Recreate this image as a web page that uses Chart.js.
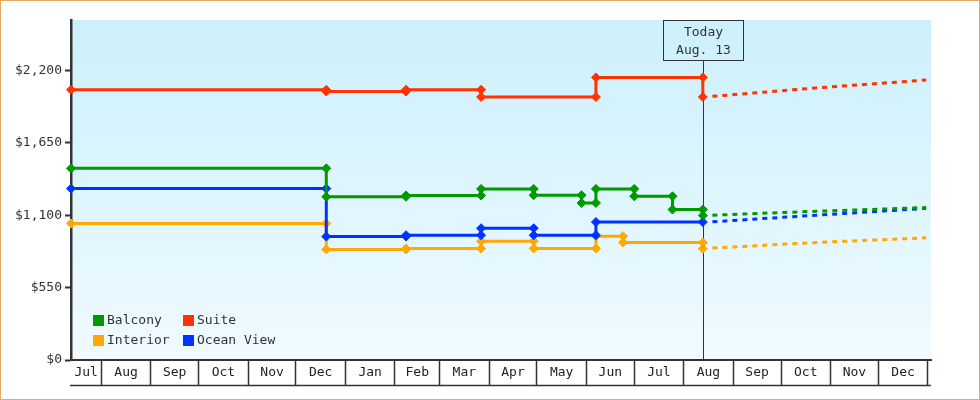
<!DOCTYPE html>
<html>
<head>
<meta charset="utf-8">
<script src="https://cdn.jsdelivr.net/npm/chart.js@4.4.0/dist/chart.umd.min.js"></script>
<style>
  body { margin: 0; background: #fff; }
  .frame { width: 980px; height: 400px; box-sizing: border-box; border: 1px solid #e9a865; }
  canvas { display: block; }
</style>
</head>
<body>
<div class="frame"><canvas id="prices" width="978" height="398"></canvas></div>
<script>
// month cells along the bottom, first one is a partial July
const monthNames = ['Jul','Aug','Sep','Oct','Nov','Dec','Jan','Feb','Mar','Apr','May','Jun','Jul','Aug','Sep','Oct','Nov','Dec']
const yTicks = [0, 550, 1100, 1650, 2200]

const startDate = '2022-07-13'
const endDate = '2024-01-03'
const today = '2023-08-13'

// price changes (date of change, new price)
const balconyDates = ['2022-07-13','2022-12-20','2023-02-08','2023-03-27','2023-04-29','2023-05-29','2023-06-07','2023-07-01','2023-07-25','2023-08-13']
const balconyPrices = [1456, 1240, 1250, 1300, 1252, 1193, 1300, 1244, 1143, 1098]

const suiteDates = ['2022-07-13','2022-12-20','2023-02-08','2023-03-27','2023-06-07','2023-08-13']
const suitePrices = [2053, 2040, 2053, 1998, 2147, 1998]

const interiorDates = ['2022-07-13','2022-12-20','2023-02-08','2023-03-27','2023-04-29','2023-06-07','2023-06-24','2023-08-13']
const interiorPrices = [1037, 840, 847, 903, 847, 941, 893, 845]

const oceanDates = ['2022-07-13','2022-12-20','2023-02-08','2023-03-27','2023-04-29','2023-06-07','2023-08-13']
const oceanPrices = [1302, 938, 948, 1001, 948, 1048, 1048]

// dashed forecast after today
const forecastDates = ['2023-08-19','2023-10-23','2023-12-31']
const suiteForecast = [2003, 2067, 2127]
const balconyForecast = [1100, 1130, 1158]
const oceanForecast = [1050, 1100, 1152]
const interiorForecast = [850, 893, 928]

const colors = { balcony: '#009900', suite: '#ff3300', interior: '#ffa800', ocean: '#0033ff' }
const FONT = 'DejaVu Sans Mono'

function day(s){
  const [y, m, d] = s.split('-').map(Number)
  return (Date.UTC(y, m - 1, d) - Date.UTC(2022, 6, 1)) / 864e5
}

function steps(dates, prices){
  const pts = []
  dates.forEach((d, i) => {
    if (i > 0 && prices[i] !== prices[i-1]) pts.push({ x: day(d), y: prices[i-1] })
    pts.push({ x: day(d), y: prices[i] })
  })
  return pts
}

function line(dates, prices){
  return dates.map((d, i) => ({ x: day(d), y: prices[i] }))
}

const xMin = day(startDate)
const xMax = day(endDate)

// month boundaries + a label tick in the middle of every cell
const monthTicks = []
monthNames.forEach((name, i) => {
  const a = Math.max(xMin, (Date.UTC(2022, 6 + i, 1) - Date.UTC(2022, 6, 1)) / 864e5)
  const b = Math.min(xMax, (Date.UTC(2022, 7 + i, 1) - Date.UTC(2022, 6, 1)) / 864e5)
  if (i > 0) monthTicks.push({ value: a })
  monthTicks.push({ value: (a + b) / 2, name: name })
})
monthTicks.push({ value: (Date.UTC(2024, 0, 1) - Date.UTC(2022, 6, 1)) / 864e5 })

function stepSet(label, key, dates, prices, order){
  return {
    label: label,
    data: steps(dates, prices),
    borderColor: colors[key],
    backgroundColor: colors[key],
    borderWidth: 3,
    pointStyle: 'rectRot',
    pointRadius: 4.5,
    pointBorderWidth: 1,
    pointBackgroundColor: colors[key],
    pointBorderColor: colors[key],
    tension: 0,
    clip: false,
    order: order
  }
}

function forecastSet(key, prices, order){
  return {
    label: key + ' forecast',
    data: line(forecastDates, prices),
    borderColor: colors[key],
    borderWidth: 3,
    borderDash: [5, 5],
    pointRadius: 0,
    tension: 0,
    clip: false,
    forecast: true,
    order: order
  }
}

const plotBackground = {
  id: 'plotBackground',
  beforeDraw(chart){
    const { ctx, chartArea: a } = chart
    const g = ctx.createLinearGradient(0, a.top, 0, a.bottom)
    g.addColorStop(0, '#ccf0fc')
    g.addColorStop(1, '#f0faff')
    ctx.save()
    ctx.fillStyle = g
    ctx.fillRect(a.left, a.top, a.right - a.left, a.bottom - a.top)
    ctx.restore()
  },
  afterDraw(chart){
    // bottom line closing the month cells
    const { ctx, chartArea: a } = chart
    const x = chart.scales.x
    ctx.save()
    ctx.strokeStyle = '#333'
    ctx.lineWidth = 1.5
    ctx.beginPath()
    ctx.moveTo(a.left - 1, x.top + 25.5)
    ctx.lineTo(a.right, x.top + 25.5)
    ctx.stroke()
    ctx.restore()
  }
}

const todayMarker = {
  id: 'todayMarker',
  beforeDatasetsDraw(chart){
    const { ctx, chartArea: a } = chart
    const px = Math.round(chart.scales.x.getPixelForValue(day(today))) + 0.5
    const top = a.top
    ctx.save()
    ctx.strokeStyle = '#333'
    ctx.lineWidth = 1
    ctx.beginPath()
    ctx.moveTo(px, top + 40)
    ctx.lineTo(px, a.bottom)
    ctx.stroke()
    ctx.strokeRect(px - 40, top + 0.5, 80, 40)
    ctx.fillStyle = '#333'
    ctx.font = '13px ' + FONT
    ctx.textAlign = 'center'
    ctx.textBaseline = 'middle'
    ctx.fillText('Today', px, top + 12.5)
    ctx.fillText('Aug. 13', px, top + 30.5)
    ctx.restore()
  }
}

const boxLegend = {
  id: 'boxLegend',
  afterDraw(chart){
    const { ctx, chartArea: a } = chart
    const items = chart.data.datasets.filter(d => !d.forecast)
    ctx.save()
    ctx.font = '13px ' + FONT
    ctx.textBaseline = 'middle'
    ctx.textAlign = 'left'
    items.forEach((d, i) => {
      const x = a.left + 22 + (i % 2) * 90
      const y = a.bottom - 45 + Math.floor(i / 2) * 20
      ctx.fillStyle = d.borderColor
      ctx.fillRect(x, y, 11, 11)
      ctx.fillStyle = '#333'
      ctx.fillText(d.label, x + 14, y + 6)
    })
    ctx.restore()
  }
}

new Chart(document.getElementById('prices'), {
  type: 'line',
  data: {
    datasets: [
      stepSet('Balcony', 'balcony', balconyDates, balconyPrices, 2),
      stepSet('Suite', 'suite', suiteDates, suitePrices, 1),
      stepSet('Interior', 'interior', interiorDates, interiorPrices, 4),
      stepSet('Ocean View', 'ocean', oceanDates, oceanPrices, 3),
      forecastSet('suite', suiteForecast, 5),
      forecastSet('balcony', balconyForecast, 6),
      forecastSet('ocean', oceanForecast, 7),
      forecastSet('interior', interiorForecast, 8)
    ]
  },
  options: {
    responsive: false,
    animation: false,
    layout: { padding: { top: 19, right: 48, left: 0, bottom: 0 } },
    plugins: {
      legend: { display: false },
      tooltip: { enabled: false }
    },
    scales: {
      x: {
        type: 'linear',
        min: xMin,
        max: xMax,
        afterBuildTicks: (scale) => { scale.ticks = monthTicks.map(t => Object.assign({}, t)) },
        afterFit: (scale) => { scale.height = 39 },
        border: { display: true, color: '#333', width: 2 },
        grid: {
          drawOnChartArea: false,
          tickLength: 25,
          tickWidth: 1.5,
          tickColor: (c) => (c.tick && c.tick.name) ? 'rgba(0,0,0,0)' : '#333'
        },
        ticks: {
          autoSkip: false,
          maxRotation: 0,
          padding: -20,
          color: '#222',
          font: { family: FONT, size: 13 },
          callback: function(value, index, ticks){ return ticks[index].name || '' }
        }
      },
      y: {
        min: 0,
        max: 2583,
        afterBuildTicks: (scale) => { scale.ticks = yTicks.map(v => ({ value: v })) },
        afterFit: (scale) => { scale.width = 70 },
        border: { display: true, color: '#333', width: 2.5 },
        grid: {
          drawOnChartArea: false,
          tickLength: 6,
          tickWidth: 2,
          tickColor: '#333'
        },
        ticks: {
          padding: 3,
          color: '#333',
          font: { family: FONT, size: 13 },
          callback: (v) => '$' + v.toLocaleString('en-US')
        }
      }
    }
  },
  plugins: [plotBackground, todayMarker, boxLegend]
})
</script>
</body>
</html>
